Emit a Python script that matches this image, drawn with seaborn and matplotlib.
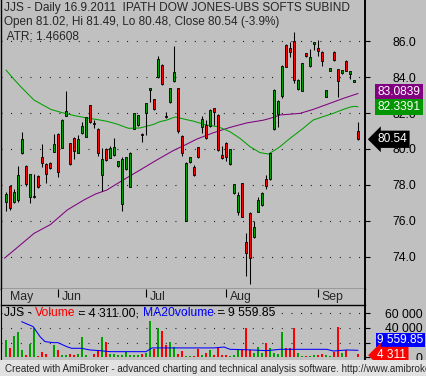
import numpy as np
import pandas as pd
import matplotlib
matplotlib.use("Agg")
import matplotlib.pyplot as plt
import matplotlib.transforms as mtransforms
from matplotlib.patches import Rectangle
import seaborn as sns

# ---- data (JJS daily, May - 16 Sep 2011) ----
opens = [77.07, 77.94, 77.04, 77.17, 79.76, 79.06, 77.35, 77.31, 78.50, 79.57,
         79.17, 79.24, 79.85, 80.83, 80.07, 81.85, 80.31, 80.63, 79.80, 80.87,
         80.65, 82.43, 81.44, 81.13, 78.54, 79.98, 79.52, 79.65, 79.07, 76.93,
         78.87, 77.87, 81.13, 81.31, 80.80, 81.98, 83.28, 82.76, 83.98, 84.67,
         81.85, 82.61, 83.78, 83.37, 80.74, 76.02, 79.30, 79.02, 80.09, 81.24,
         81.31, 81.28, 82.26, 81.89, 79.67, 80.31, 79.15, 77.54, 76.48, 78.09,
         74.81, 76.46, 75.09, 76.52, 76.89, 78.31, 78.31, 81.11, 81.94, 82.94,
         85.78, 85.59, 86.00, 83.31, 83.24, 85.31, 84.63, 85.86, 85.60, 85.41,
         82.87, 84.35, 85.39, 84.43, 84.24, 84.91, 84.15, 83.72, 81.02]
highs = [77.60, 77.98, 77.76, 79.06, 80.96, 79.09, 78.63, 78.61, 78.54, 80.28,
         79.20, 79.28, 80.83, 80.91, 81.65, 83.22, 80.35, 80.67, 80.76, 81.50,
         81.80, 82.46, 81.60, 81.17, 80.04, 80.04, 80.17, 80.63, 79.35, 79.57,
         79.57, 79.83, 82.02, 81.91, 80.91, 82.57, 83.37, 82.80, 85.17, 84.70,
         82.07, 83.41, 85.72, 83.41, 80.78, 79.30, 79.57, 79.11, 80.13, 81.83,
         81.61, 82.20, 82.30, 81.93, 80.17, 80.41, 80.02, 78.07, 77.63, 78.13,
         75.31, 76.50, 75.98, 77.35, 77.63, 78.56, 79.80, 83.31, 82.72, 84.65,
         85.83, 85.94, 86.48, 83.87, 84.80, 85.35, 85.54, 85.95, 86.06, 85.44,
         83.28, 84.48, 85.43, 84.46, 84.39, 84.94, 84.31, 83.81, 81.49]
lows = [76.57, 76.61, 76.98, 77.07, 79.72, 77.96, 76.98, 77.30, 77.81, 79.02,
        78.13, 78.89, 79.81, 78.46, 80.04, 81.83, 79.11, 79.43, 79.76, 80.83,
        80.65, 81.46, 81.15, 79.61, 77.69, 79.35, 79.48, 79.61, 79.02, 76.57,
        78.83, 77.87, 81.09, 81.28, 80.41, 80.76, 82.63, 82.17, 83.94, 83.57,
        81.70, 82.57, 83.74, 80.87, 79.61, 75.98, 79.20, 78.52, 79.48, 80.87,
        80.56, 81.24, 81.33, 79.91, 79.43, 79.35, 79.11, 77.50, 76.33, 76.20,
        72.94, 72.48, 75.06, 76.48, 76.85, 77.76, 78.28, 81.07, 81.20, 82.85,
        84.54, 85.13, 83.65, 83.28, 83.20, 85.13, 84.54, 85.50, 85.17, 84.63,
        82.87, 84.35, 84.91, 82.87, 84.17, 84.31, 83.87, 83.72, 80.48]
closes = [77.50, 76.70, 77.61, 78.56, 80.56, 78.04, 78.59, 77.35, 77.87, 79.20,
          78.59, 78.93, 80.26, 78.74, 81.61, 82.11, 79.15, 79.91, 80.56, 81.28,
          81.76, 81.50, 81.41, 79.80, 79.43, 79.39, 80.07, 80.09, 79.31, 79.44,
          79.54, 79.80, 81.98, 81.87, 80.78, 82.54, 83.37, 82.20, 84.98, 83.61,
          81.80, 83.37, 84.26, 81.02, 79.80, 79.20, 79.54, 78.56, 79.54, 81.67,
          80.59, 82.17, 82.04, 79.94, 79.48, 79.57, 79.98, 78.04, 77.44, 76.24,
          74.20, 73.93, 75.65, 77.17, 77.54, 77.96, 79.76, 83.28, 82.67, 84.61,
          84.57, 85.37, 83.83, 83.83, 84.76, 85.17, 85.13, 85.93, 85.46, 84.91,
          83.28, 84.48, 84.94, 83.80, 84.39, 84.35, 84.31, 83.81, 80.54]
volumes = [23600, 12300, 29100, 35000, 10000, 3200, 18200, 39500, 1800, 6800,
           4500, 1000, 16800, 10000, 3600, 3600, 4100, 3200, 5000, 27300,
           2700, 800, 4500, 8600, 27300, 20900, 4500, 4100, 2700, 2700,
           7700, 2700, 2700, 3200, 4100, 6400, 49500, 12000, 39500, 35900,
           16800, 20500, 14500, 4000, 9000, 2000, 2000, 2000, 10900, 3200,
           5500, 10000, 3200, 13600, 2700, 3200, 1800, 2700, 10900, 10900,
           40500, 10000, 5500, 14500, 5500, 20000, 12300, 5500, 4500, 35000,
           13200, 13200, 40500, 5500, 1500, 1500, 1800, 3200, 3200, 4500,
           3200, 1800, 7700, 41800, 6400, 10000, 1000, 1000, 4311]

# moving averages (bar index, value)
ma_fast_x = [0, 2, 3.7, 7, 11.2, 13.7, 17, 20.3, 23.5, 25.2, 27.7, 30.6, 33.5, 36.8,
             38.5, 40.2, 42.3, 44.75, 46.8, 50.2, 53, 56, 58.5, 61, 63.5, 65.6,
             67.25, 68.5, 71, 74.3, 76.8, 79.3, 81.8, 84.3, 86.4, 87.5, 88]
ma_fast_y = [84.39, 83.87, 83.46, 82.72, 82.20, 82.04, 81.86, 81.72, 81.61, 81.54,
             81.39, 81.15, 81.17, 81.36, 81.52, 81.61, 81.78, 81.65, 81.55, 81.33,
             81.24, 80.96, 80.59, 80.13, 79.80, 79.72, 79.94, 80.13, 80.59, 81.15,
             81.61, 81.80, 81.98, 82.20, 82.35, 82.37, 82.3391]
ma_slow_x = [-0.4, 3.6, 7, 11.1, 15.3, 19.5, 22.4, 25.2, 29.3, 33.5, 37.7, 41.8,
             44.75, 47.7, 51.8, 56, 60.2, 64.3, 66, 68.5, 73.5, 76.8, 81, 84.3, 88]
ma_slow_y = [73.93, 74.67, 75.31, 75.80, 76.61, 77.17, 77.50, 77.72, 78.28, 78.83,
             79.39, 79.91, 80.22, 80.55, 80.90, 81.20, 81.45, 81.60, 81.70, 81.89,
             81.98, 82.20, 82.54, 82.81, 83.0839]
ma_vol_x = [3.9, 6.8, 8.5, 9.75, 11.8, 13, 15.2, 16.4, 18.9, 21, 23.5, 26, 30, 35,
            36.5, 44, 52, 54.5, 56, 60.2, 65.2, 68.5, 71.8, 75.2, 80.2, 81.8, 85.2, 88]
ma_vol_y = [48600, 41800, 28200, 21400, 20000, 20000, 14500, 12300, 12300, 10000,
            9100, 7700, 7700, 7700, 12800, 12800, 12800, 14000, 10900, 10300,
            9100, 10900, 10900, 10900, 10900, 8600, 10000, 9559.85]

price_ticks = [74, 76, 78, 80, 82, 84, 86]
price_labels = ["74.0", "76.0", "78.0", "80.0", "82.0", "84.0", "86.0"]
vol_ticks = [0, 20000, 40000, 60000]
vol_labels = ["0", "", "40 000", "60 000"]   # 20 000 sits under the MA box
months = ["May", "Jun", "Jul", "Aug", "Sep"]
month_start = [0, 13, 35, 55, 78]

title = "JJS - Daily 16.9.2011  IPATH DOW JONES-UBS SOFTS SUBIND"
ohlc_line = "Open 81.02, Hi 81.49, Lo 80.48, Close 80.54 (-3.9%)"
atr_line = " ATR: 1.46608"
footer = ("Created with AmiBroker - advanced charting and technical analysis "
          "software. http://www.amibroker.com")

# ---- style ----
BG = "#C0C0C0"
GREEN = "#00A000"
RED = "#FF0000"
sns.set_style("white")
plt.rcParams["font.family"] = ["Liberation Sans", "DejaVu Sans"]

W, H = 426, 376
fig = plt.figure(figsize=(W / 100, H / 100), dpi=100, facecolor=BG)


def px_box(x0, y0, x1, y1):
    return [x0 / W, 1 - y1 / H, (x1 - x0) / W, (y1 - y0) / H]


ax = fig.add_axes(px_box(1, 0, 365, 289))
ax_d = fig.add_axes(px_box(1, 289, 365, 305))
ax_v = fig.add_axes(px_box(1, 305, 365, 359))
fig.patches.append(Rectangle((0, 0), 1, 1 - 359.5 / H, transform=fig.transFigure,
                             facecolor="#E2E2E2", edgecolor="none", zorder=0))

df = pd.DataFrame({"open": opens, "high": highs, "low": lows,
                   "close": closes, "volume": volumes})
df["idx"] = np.arange(len(df))
up = df["close"] >= df["open"]
colors = np.where(up, GREEN, RED)

dots = (0, (0.8, 7.9))
xlim = (-1.25, 89.75)

# ---- price panel ----
ax.set_facecolor(BG)
for t in price_ticks:
    ax.axhline(t, color="black", lw=0.8, ls=dots, zorder=1)
sns.lineplot(x=ma_slow_x, y=ma_slow_y, ax=ax, color="#800080", lw=0.75,
             estimator=None, sort=False, zorder=2)
sns.lineplot(x=ma_fast_x, y=ma_fast_y, ax=ax, color="#00A000", lw=0.75,
             estimator=None, sort=False, zorder=2)
ax.vlines(df["idx"], df["low"], df["high"], color="black", lw=0.75, zorder=3)
body_lo = np.minimum(df["open"], df["close"])
body_h = np.maximum((df["close"] - df["open"]).abs(), 0.06)
ax.bar(df["idx"], body_h, bottom=body_lo, width=0.72, color=colors,
       edgecolor="black", linewidth=0.6, zorder=4)
ax.set_xlim(*xlim)
ax.set_ylim(72.22, 88.28)
ax.set_xticks([])
ax.yaxis.tick_right()
ax.set_yticks(price_ticks, price_labels)
ax.tick_params(axis="y", direction="out", length=3.6, width=0.8, pad=33.5,
               labelsize=8.7, colors="black")
for lab in ax.get_yticklabels():
    lab.set_horizontalalignment("right")
ax.set_xlabel("")
ax.set_ylabel("")
for side in ["left", "bottom"]:
    ax.spines[side].set_color("black")
    ax.spines[side].set_linewidth(1.0)
ax.spines["right"].set_linewidth(1.4)
ax.spines["right"].set_color("black")
ax.spines["top"].set_visible(False)

bt = mtransforms.blended_transform_factory(ax.transAxes, ax.transData)
ax.annotate("83.0839", xy=(1, ma_slow_y[-1]), xycoords=bt, xytext=(9.0, 1.0),
            textcoords="offset points", ha="left", va="center", fontsize=8.6,
            color="white", annotation_clip=False, zorder=6,
            bbox=dict(boxstyle="square,pad=0.18", fc="#800080", ec="none"))
ax.annotate("82.3391", xy=(1, ma_fast_y[-1]), xycoords=bt, xytext=(9.0, 0),
            textcoords="offset points", ha="left", va="center", fontsize=8.6,
            color="white", annotation_clip=False, zorder=6,
            bbox=dict(boxstyle="square,pad=0.18", fc="#009600", ec="none"))
ax.annotate("80.54", xy=(1, closes[-1]), xycoords=bt, xytext=(8.8, 0),
            textcoords="offset points", ha="left", va="center", fontsize=8.6,
            color="white", annotation_clip=False, zorder=6,
            bbox=dict(boxstyle="larrow,pad=0.22", fc="black", ec="none"))

# ---- date strip ----
ax_d.set_facecolor(BG)
ax_d.set_xlim(*xlim)
ax_d.set_ylim(0, 1)
ax_d.set_yticks([])
ax_d.set_xticks(month_start[1:])
ax_d.tick_params(axis="x", direction="in", top=True, bottom=False,
                 labelbottom=False, length=5.5, width=0.8, colors="black")
for m, s in zip(months, month_start):
    ax_d.text(s + 0.9, 0.47, m, ha="left", va="center", fontsize=8.8)
for side in ["left", "right"]:
    ax_d.spines[side].set_color("black")
ax_d.spines["right"].set_linewidth(1.4)
ax_d.spines["top"].set_visible(False)
ax_d.spines["bottom"].set_visible(False)

# ---- volume panel ----
ax_v.set_facecolor(BG)
for t in vol_ticks[1:]:
    ax_v.axhline(t, color="black", lw=0.8, ls=dots, zorder=1)
ax_v.bar(df["idx"], df["volume"], width=0.55, color=colors, linewidth=0, zorder=2)
sns.lineplot(x=ma_vol_x, y=ma_vol_y, ax=ax_v, color="#0000FF", lw=0.75,
             estimator=None, sort=False, zorder=3)
ax_v.set_xlim(*xlim)
ax_v.set_ylim(-2300, 71300)
ax_v.set_xticks([])
ax_v.yaxis.tick_right()
ax_v.set_yticks(vol_ticks, vol_labels)
ax_v.tick_params(axis="y", direction="out", length=3.6, width=0.8, pad=38,
                 labelsize=8.7, colors="black")
for lab in ax_v.get_yticklabels():
    lab.set_horizontalalignment("right")
ax_v.set_xlabel("")
ax_v.set_ylabel("")
ax_v.spines["top"].set_linewidth(1.0)
ax_v.spines["right"].set_linewidth(1.4)
ax_v.spines["bottom"].set_visible(False)
for side in ["left", "top", "right"]:
    ax_v.spines[side].set_color("black")

bv = mtransforms.blended_transform_factory(ax_v.transAxes, ax_v.transData)
ax_v.annotate("9 559.85", xy=(1, ma_vol_y[-1]), xycoords=bv, xytext=(8.8, 7.4),
              textcoords="offset points", ha="left", va="center", fontsize=8.6,
              color="white", annotation_clip=False, zorder=6,
              bbox=dict(boxstyle="square,pad=0.12", fc="#0000FF", ec="none"))
ax_v.annotate("4 311", xy=(1, volumes[-1]), xycoords=bv, xytext=(8.8, -0.8),
              textcoords="offset points", ha="left", va="center", fontsize=8.6,
              color="white", annotation_clip=False, zorder=7,
              bbox=dict(boxstyle="larrow,pad=0.2", fc=RED, ec="none"))

# volume title in three colours
t1 = ax_v.text(3 / 364, 1 - 8.5 / 54, "JJS - ", transform=ax_v.transAxes,
               ha="left", va="center", fontsize=8.7, color="black", zorder=7)
t2 = ax_v.annotate("Volume", xy=(1, 0), xycoords=t1, ha="left", va="bottom",
                   fontsize=8.7, color=RED, zorder=7)
t3 = ax_v.annotate(" = 4 311.00, ", xy=(1, 0), xycoords=t2, ha="left",
                   va="bottom", fontsize=8.7, color="black", zorder=7)
t4 = ax_v.annotate("MA20volume", xy=(1, 0), xycoords=t3, ha="left",
                   va="bottom", fontsize=8.7, color="#0000FF", zorder=7)
ax_v.annotate(" = 9 559.85", xy=(1, 0), xycoords=t4, ha="left", va="bottom",
              fontsize=8.7, color="black", zorder=7)

# ---- header and footer text ----
fig.text(4 / W, 1 - 7.5 / H, title, ha="left", va="center", fontsize=8.6)
fig.text(4 / W, 1 - 22.5 / H, ohlc_line, ha="left", va="center", fontsize=8.5)
fig.text(4 / W, 1 - 36.5 / H, atr_line, ha="left", va="center", fontsize=8.6)
fig.text(5 / W, 1 - 368.5 / H, footer, ha="left", va="center", fontsize=7.1)

fig.savefig("out.png", dpi=100, facecolor=BG)
